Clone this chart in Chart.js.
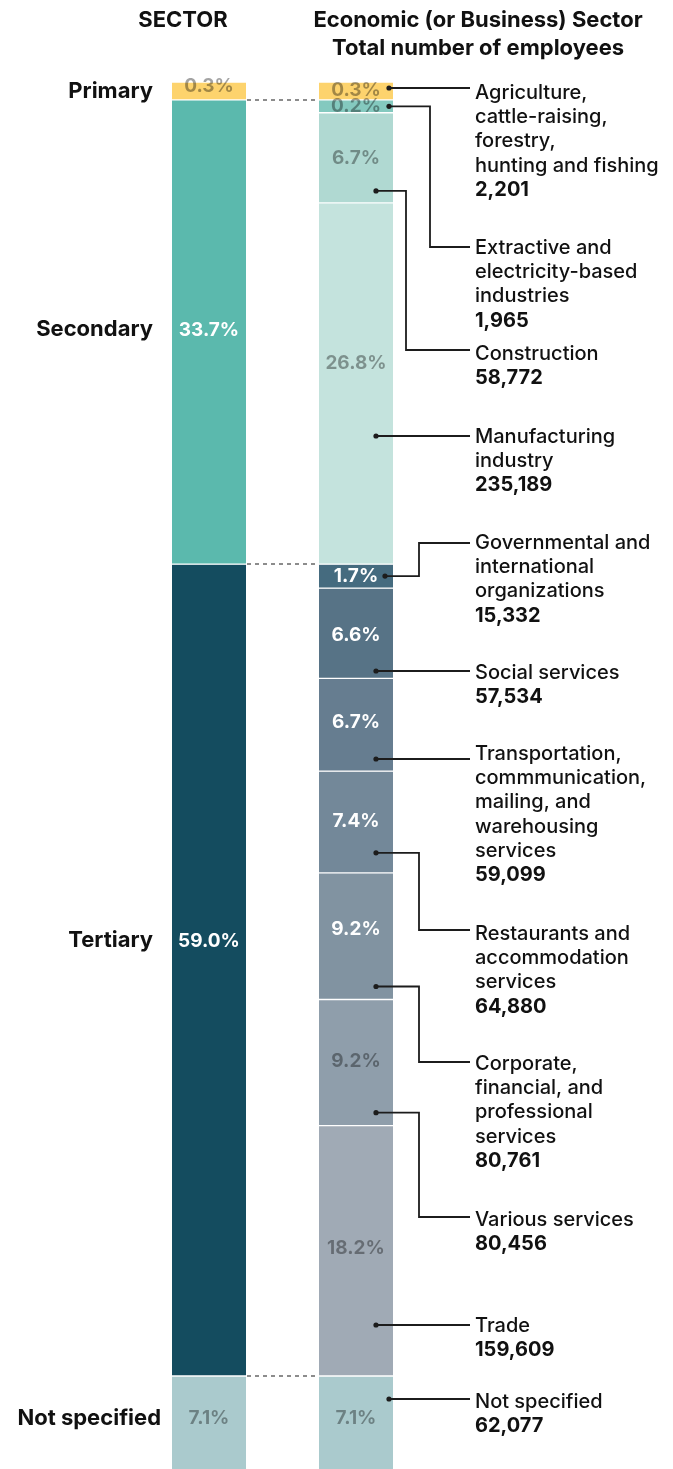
<!DOCTYPE html>
<html><head><meta charset="utf-8">
<script src="https://cdn.jsdelivr.net/npm/chart.js@4"></script>
<style>html,body{margin:0;padding:0;background:#fff;}canvas{display:block;}</style>
</head><body>
<canvas id="c" width="673" height="1469"></canvas>
<script>
// ---------- DATA ----------
const sectors = ['Primary', 'Secondary', 'Tertiary', 'Not specified'];
const subSectors = [
  'Agriculture,\ncattle-raising,\nforestry,\nhunting and fishing',
  'Extractive and\nelectricity-based\nindustries',
  'Construction',
  'Manufacturing\nindustry',
  'Governmental and\ninternational\norganizations',
  'Social services',
  'Transportation,\ncommmunication,\nmailing, and\nwarehousing\nservices',
  'Restaurants and\naccommodation\nservices',
  'Corporate,\nfinancial, and\nprofessional\nservices',
  'Various services',
  'Trade',
  'Not specified'
];
const subSectorOf = [0, 1, 1, 1, 2, 2, 2, 2, 2, 2, 2, 3];
const employees = [2201, 1965, 58772, 235189, 15332, 57534, 59099, 64880, 80761, 80456, 159609, 62077];
const titleLeft = 'SECTOR';
const titleRight = ['Economic (or Business) Sector', 'Total number of employees'];

// ---------- STYLE / LAYOUT ----------
const sectorColors = ['#fdd36d', '#5bb9ad', '#144c5f', '#aacacd'];
const subColors = ['#fdd36d', '#84c9bf', '#b0d9d2', '#c4e3dd', '#456b7f', '#577386', '#667d90',
                   '#738899', '#8193a1', '#8f9eab', '#a0aab5', '#aacacd'];
const DARK_TXT = 'rgba(0,0,0,0.36)', WHITE_TXT = '#ffffff';
const sectorPctColor = [DARK_TXT, WHITE_TXT, WHITE_TXT, DARK_TXT];
const subPctColor = [DARK_TXT, DARK_TXT, DARK_TXT, DARK_TXT, WHITE_TXT, WHITE_TXT, WHITE_TXT,
                     WHITE_TXT, WHITE_TXT, DARK_TXT, DARK_TXT, DARK_TXT];
const sectorPctShift = [-5, -2, -29, -6];
const sectorNameShift = [0, -3, -30, -6];
const sectorNameRight = [153, 153, 153, 161];
const subPctShift = [-1, 0, 0, -20, 0, 2, -2, -1, -7, -1, -3, -6];
const labelLineY = [88, 247, 350, 436, 543, 671, 759, 930, 1062, 1217, 1325, 1399];
const labelTextY = [93, 248, 354, 437, 543, 673, 754, 934, 1064, 1220, 1326, 1402];
const elbowX = [null, 430, 406, null, 419, null, null, 419, 419, 419, null, null];
const dotInset = [4, 4, 17, 17, 8, 17, 17, 17, 17, 17, 17, 4];
const dotAbove = [null, null, 12, null, null, null, null, 20, 13, 13, null, null];
const MIN_LEFT = 1.3, MIN_RIGHT = 0.95, Y_MAX = 100.73;
const FONT = 'Inter, "Noto Sans", sans-serif';

// ---------- DERIVED ----------
const total = employees.reduce((a, b) => a + b, 0);
const subPct = employees.map(v => v / total * 100);
const sectorEmp = sectors.map((_, s) => employees.reduce((a, v, i) => a + (subSectorOf[i] === s ? v : 0), 0));
const sectorPct = sectorEmp.map(v => v / total * 100);
const sectorDisp = sectorPct.map(p => Math.max(p, MIN_LEFT));
const subRaw = subPct.map(p => Math.max(p, MIN_RIGHT));
const subDisp = subRaw.map((r, i) => {
  const s = subSectorOf[i];
  const g = subRaw.reduce((a, v, j) => a + (subSectorOf[j] === s ? v : 0), 0);
  return r * sectorDisp[s] / g;
});

const common = {borderColor: '#ffffff', borderWidth: {top: 1, bottom: 1, left: 0, right: 0},
                borderSkipped: false, barThickness: 74};
const datasets = [];
sectors.forEach((s, i) => datasets.push(Object.assign({label: s, data: [sectorDisp[i], null],
  backgroundColor: sectorColors[i]}, common)));
subSectors.forEach((s, i) => datasets.push(Object.assign({label: s.replace(/\n/g, ' '), data: [null, subDisp[i]],
  backgroundColor: subColors[i]}, common)));
const NS = sectors.length;

function segOf(chart, ds, idx) {
  const el = chart.getDatasetMeta(ds).data[idx];
  return {top: Math.min(el.y, el.base), bottom: Math.max(el.y, el.base), x: el.x, w: el.width};
}

const annot = {
  id: 'annot',
  afterDatasetsDraw(chart) {
    const ctx = chart.ctx;
    ctx.save();
    // titles
    ctx.fillStyle = '#111';
    ctx.font = 'bold 22px ' + FONT;
    ctx.textAlign = 'center';
    ctx.textBaseline = 'middle';
    ctx.fillText(titleLeft, 183, 20);
    ctx.fillText(titleRight[0], 478, 20);
    ctx.fillText(titleRight[1], 478, 48);

    // dashed connectors between sector boundaries
    ctx.strokeStyle = '#8c8c8c';
    ctx.lineWidth = 2;
    ctx.setLineDash([4, 4]);
    for (let i = 0; i < NS - 1; i++) {
      const a = segOf(chart, i, 0);
      const xr = chart.getDatasetMeta(NS).data[1];
      ctx.beginPath();
      ctx.moveTo(a.x + a.w / 2 + 1, a.bottom);
      ctx.lineTo(xr.x - xr.width / 2 - 1, a.bottom);
      ctx.stroke();
    }
    ctx.setLineDash([]);

    // left bar: pct labels + sector names
    for (let i = 0; i < NS; i++) {
      const s = segOf(chart, i, 0);
      const cy = (s.top + Math.min(s.bottom, chart.chartArea.bottom + 6)) / 2;
      ctx.font = 'bold 19px ' + FONT;
      ctx.textAlign = 'center';
      ctx.fillStyle = sectorPctColor[i];
      ctx.fillText(sectorPct[i].toFixed(1) + '%', s.x, cy + sectorPctShift[i]);
      ctx.font = 'bold 22px ' + FONT;
      ctx.textAlign = 'right';
      ctx.fillStyle = '#111';
      ctx.fillText(sectors[i], sectorNameRight[i], cy + sectorNameShift[i]);
    }

    // right bar: pct labels, leaders, names
    for (let i = 0; i < subSectors.length; i++) {
      const s = segOf(chart, NS + i, 1);
      const bottom = Math.min(s.bottom, chart.chartArea.bottom + 6);
      const cy = (s.top + bottom) / 2;
      ctx.font = 'bold 19px ' + FONT;
      ctx.textAlign = 'center';
      ctx.fillStyle = subPctColor[i];
      ctx.fillText(subPct[i].toFixed(1) + '%', s.x, cy + subPctShift[i]);

      // leader
      const dx = s.x + s.w / 2 - dotInset[i];
      let dy;
      if (elbowX[i] === null) dy = labelLineY[i];
      else if (dotAbove[i] === null) dy = cy;
      else dy = s.bottom - dotAbove[i];
      ctx.strokeStyle = '#1c1c1c';
      ctx.lineWidth = 1.8;
      ctx.beginPath();
      ctx.moveTo(dx, dy);
      if (elbowX[i] !== null) {
        ctx.lineTo(elbowX[i], dy);
        ctx.lineTo(elbowX[i], labelLineY[i]);
      }
      ctx.lineTo(470, labelLineY[i]);
      ctx.stroke();
      ctx.fillStyle = '#1c1c1c';
      ctx.beginPath();
      ctx.arc(dx, dy, 2.6, 0, Math.PI * 2);
      ctx.fill();

      // label text
      const lines = subSectors[i].split('\n');
      ctx.textAlign = 'left';
      ctx.fillStyle = '#111';
      ctx.font = '500 20px ' + FONT;
      lines.forEach((ln, k) => ctx.fillText(ln, 475, labelTextY[i] + k * 24.2));
      ctx.font = 'bold 20px ' + FONT;
      ctx.fillText(employees[i].toLocaleString('en-US'), 475, labelTextY[i] + lines.length * 24.2);
    }
    ctx.restore();
  }
};

new Chart(document.getElementById('c'), {
  type: 'bar',
  data: {labels: [titleLeft, titleRight[0]], datasets},
  options: {
    responsive: false,
    animation: false,
    layout: {padding: {top: 82, bottom: 0, left: 135.5, right: 243.5}},
    plugins: {legend: {display: false}, tooltip: {enabled: false}},
    scales: {
      x: {stacked: true, display: false},
      y: {stacked: true, display: false, reverse: true, min: 0, max: Y_MAX}
    }
  },
  plugins: [annot]
});
</script>
</body></html>
